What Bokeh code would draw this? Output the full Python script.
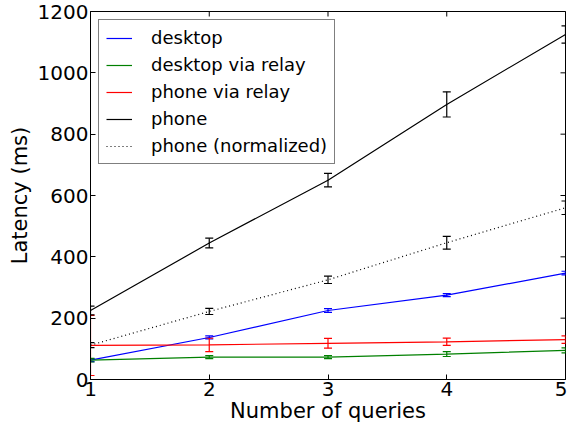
from bokeh.plotting import figure
from bokeh.models import (ColumnDataSource, Whisker, TeeHead, Legend,
                          LegendItem, Range1d, FixedTicker)
from bokeh.embed import file_html
from bokeh.resources import INLINE

queries = [1, 2, 3, 4, 5]
desktop = [63, 137, 225, 275, 347]
desktop_err = [5, 5, 6, 5, 6]
desktop_relay = [63, 73, 73, 83, 95]
desktop_relay_err = [6, 5, 5, 8, 8]
phone_relay = [111, 113, 118, 123, 130]
phone_relay_err = [98, 22, 16, 12, 12]
phone = [225, 445, 650, 897, 1125]
phone_err = [14, 16, 22, 41, 28]
phone_norm = [112, 222, 325, 446, 560]
phone_norm_err = [8, 10, 12, 21, 22]

y_ticks = [0, 200, 400, 600, 800, 1000, 1200]
x_ticks = [1, 2, 3, 4, 5]

FONT = "DejaVu Sans"

p = figure(frame_width=475, frame_height=368, output_backend="svg", toolbar_location=None,
           x_range=Range1d(1, 5), y_range=Range1d(0, 1200),
           min_border_left=90, min_border_right=2, min_border_top=11,
           min_border_bottom=0)
p.xgrid.visible = False
p.ygrid.visible = False
p.outline_line_color = "black"
p.outline_line_width = 1
p.background_fill_color = "white"
p.border_fill_color = "white"

for ax in (p.xaxis[0], p.yaxis[0]):
    ax.major_tick_in = 5
    ax.major_tick_out = 0
    ax.minor_tick_in = 0
    ax.minor_tick_out = 0
    ax.axis_line_color = "black"
    ax.major_label_text_font = FONT
    ax.major_label_text_font_size = "20px"
    ax.major_label_text_color = "black"
    ax.axis_label_text_font = FONT
    ax.axis_label_text_font_size = "21px"
    ax.axis_label_text_font_style = "normal"
    ax.axis_label_text_color = "black"

p.xaxis[0].ticker = FixedTicker(ticks=x_ticks)
p.yaxis[0].ticker = FixedTicker(ticks=y_ticks)
p.xaxis[0].axis_label = "Number of queries"
p.yaxis[0].axis_label = "Latency (ms)"
p.xaxis[0].major_label_standoff = 2
p.yaxis[0].major_label_standoff = 2
p.xaxis[0].axis_label_standoff = 0
p.yaxis[0].axis_label_standoff = 3

# inward ticks on the top and right edges (half of each dash is clipped by the frame)
p.scatter(x=x_ticks, y=[1200] * len(x_ticks), marker="dash", size=10, angle=1.5708,
          line_color="black", line_width=1)
p.scatter(x=[5] * len(y_ticks), y=y_ticks, marker="dash", size=10,
          line_color="black", line_width=1)

series = [
    ("desktop", desktop, desktop_err, "blue", "solid"),
    ("desktop via relay", desktop_relay, desktop_relay_err, "green", "solid"),
    ("phone via relay", phone_relay, phone_relay_err, "red", "solid"),
    ("phone", phone, phone_err, "black", "solid"),
    ("phone (normalized)", phone_norm, phone_norm_err, "black", "1 3"),
]

items = []
for name, vals, errs, color, dash in series:
    src = ColumnDataSource(dict(x=queries, y=vals,
                                lo=[v - e for v, e in zip(vals, errs)],
                                hi=[v + e for v, e in zip(vals, errs)]))
    r = p.line("x", "y", source=src, line_color=color, line_width=1.2, line_dash=dash)
    w = Whisker(source=src, base="x", upper="hi", lower="lo", line_color=color,
                line_width=1.2,
                upper_head=TeeHead(size=8, line_color=color, line_width=1.2),
                lower_head=TeeHead(size=8, line_color=color, line_width=1.2))
    p.add_layout(w)
    items.append(LegendItem(label=name, renderers=[r]))

legend = Legend(items=items, location="top_left",
                label_text_font=FONT, label_text_font_size="18px",
                label_text_color="black",
                border_line_color="black", border_line_width=1,
                background_fill_alpha=1.0,
                glyph_width=26, glyph_height=20, label_height=20,
                label_standoff=19, spacing=6, padding=7, margin=8)
p.add_layout(legend)

open("out.html", "w").write(file_html(p, INLINE))
